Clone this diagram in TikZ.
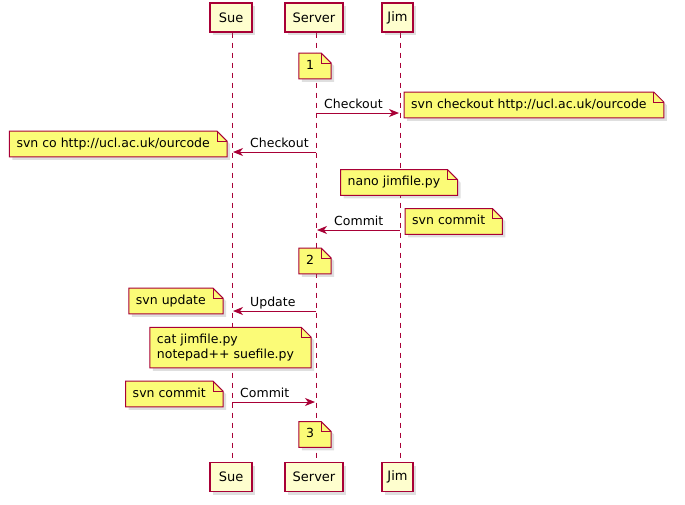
\documentclass[tikz,border=0pt]{standalone}
\usepackage{fontspec}
\setmainfont{DejaVu Sans}
\usetikzlibrary{arrows.meta}
\usetikzlibrary{shadows}
\usetikzlibrary{backgrounds}
\definecolor{umlred}{HTML}{A80036}
\definecolor{umlbox}{HTML}{FEFECE}
\definecolor{umlnote}{HTML}{FBFB77}
\tikzset{
	part/.style = {draw=umlred, line width=1.3pt, fill=umlbox, inner xsep=0pt,
		minimum height=29pt, font=\fontsize{13}{15}\selectfont,
		drop shadow={shadow xshift=3pt, shadow yshift=-3pt, opacity=0.25}},% participant
	life/.style = {umlred, line width=1pt, dash pattern=on 5pt off 5pt},% lifeline
	msg/.style = {umlred, line width=1pt, shorten >=1pt,
		-{Stealth[length=10pt, width=8pt, inset=3pt]}},% message
	lbl/.style = {inner sep=0pt, font=\fontsize{12.5}{15}\selectfont},% message label
	notetxt/.style = {inner xsep=0pt, inner ysep=6.5pt, align=left,
		text height=9.5pt, text depth=3pt, font=\fontsize{12.5}{15}\selectfont},% note text
	notebox/.style = {draw=umlred, line width=1pt, fill=umlnote}% note outline
}
\begin{document}
\begin{tikzpicture}[x=1pt, y=-1pt]
	\useasboundingbox (0,0) rectangle (685,504);
	% participants
	\node [part, minimum width=42pt] (sue) at (231,17.5) {Sue};
	\node [part, minimum width=58pt] (server) at (314,17.5) {Server};
	\node [part, minimum width=31pt] (jim) at (397.5,17.5) {Jim};
	\node [part, minimum width=42pt] (sueB) at (231,477) {Sue};
	\node [part, minimum width=58pt] (serverB) at (314,477) {Server};
	\node [part, minimum width=31pt] (jimB) at (397.5,477) {Jim};
	\coordinate (sueL) at (232,0);
	\coordinate (serverL) at (316,0);
	\coordinate (jimL) at (400,0);
	% notes
	\node [notetxt] (n1) at (310,66) {1};
	\node [notetxt, anchor=west] (nchk) at (411,105) {svn checkout http://ucl.ac.uk/ourcode};
	\node [notetxt, anchor=east] (nco) at (210,144) {svn co http://ucl.ac.uk/ourcode};
	\node [notetxt] (nnano) at (394,182.5) {nano jimfile.py};
	\node [notetxt, anchor=west] (ncomj) at (412,221.5) {svn commit};
	\node [notetxt] (n2) at (310,261) {2};
	\node [notetxt, anchor=east] (nupd) at (206,301) {svn update};
	\node [notetxt, text height=, text depth=] (ncat) at (225.5,347.5) {cat jimfile.py\\notepad++ suefile.py};
	\node [notetxt, anchor=east] (ncoms) at (206,394) {svn commit};
	\node [notetxt] (n3) at (310,434.5) {3};
	\begin{scope}[on background layer]
		\foreach \p in {sue,server,jim}
			\draw [life] (\p.south -| \p L) -- (\p B.north -| \p L);
		\foreach \n in {n1,nchk,nco,nnano,ncomj,n2,nupd,ncat,ncoms,n3} {
			\draw [notebox, drop shadow={shadow xshift=3pt, shadow yshift=-3pt, opacity=0.25}]
				([xshift=-7pt]\n.south west) -- ([xshift=-7pt]\n.north west)
				-- ([xshift=7pt]\n.north east) -- ([xshift=17pt, yshift=-10pt]\n.north east)
				-- ([xshift=17pt]\n.south east) -- cycle;
			\draw [notebox, fill=none] ([xshift=7pt]\n.north east)
				|- ([xshift=17pt, yshift=-10pt]\n.north east);
		}
	\end{scope}
	% messages
	\coordinate (m1a) at (316,113); \coordinate (m1b) at (400,113);
	\coordinate (m2a) at (316,152); \coordinate (m2b) at (232,152);
	\coordinate (m3a) at (400,230); \coordinate (m3b) at (316,230);
	\coordinate (m4a) at (316,311); \coordinate (m4b) at (232,311);
	\coordinate (m5a) at (232,402); \coordinate (m5b) at (316,402);
	\draw [msg] (m1a) -- (m1b);
	\draw [msg] (m2a) -- (m2b);
	\draw [msg] (m3a) -- (m3b);
	\draw [msg] (m4a) -- (m4b);
	\draw [msg] (m5a) -- (m5b);
	\node [lbl, anchor=base west] (l1) at (324,108.5) {Checkout};
	\node [lbl, anchor=base west] (l2) at (250,147.5) {Checkout};
	\node [lbl, anchor=base west] (l3) at (334,225.5) {Commit};
	\node [lbl, anchor=base west] (l4) at (250,306.5) {Update};
	\node [lbl, anchor=base west] (l5) at (240,397.5) {Commit};
\end{tikzpicture}
\end{document}
